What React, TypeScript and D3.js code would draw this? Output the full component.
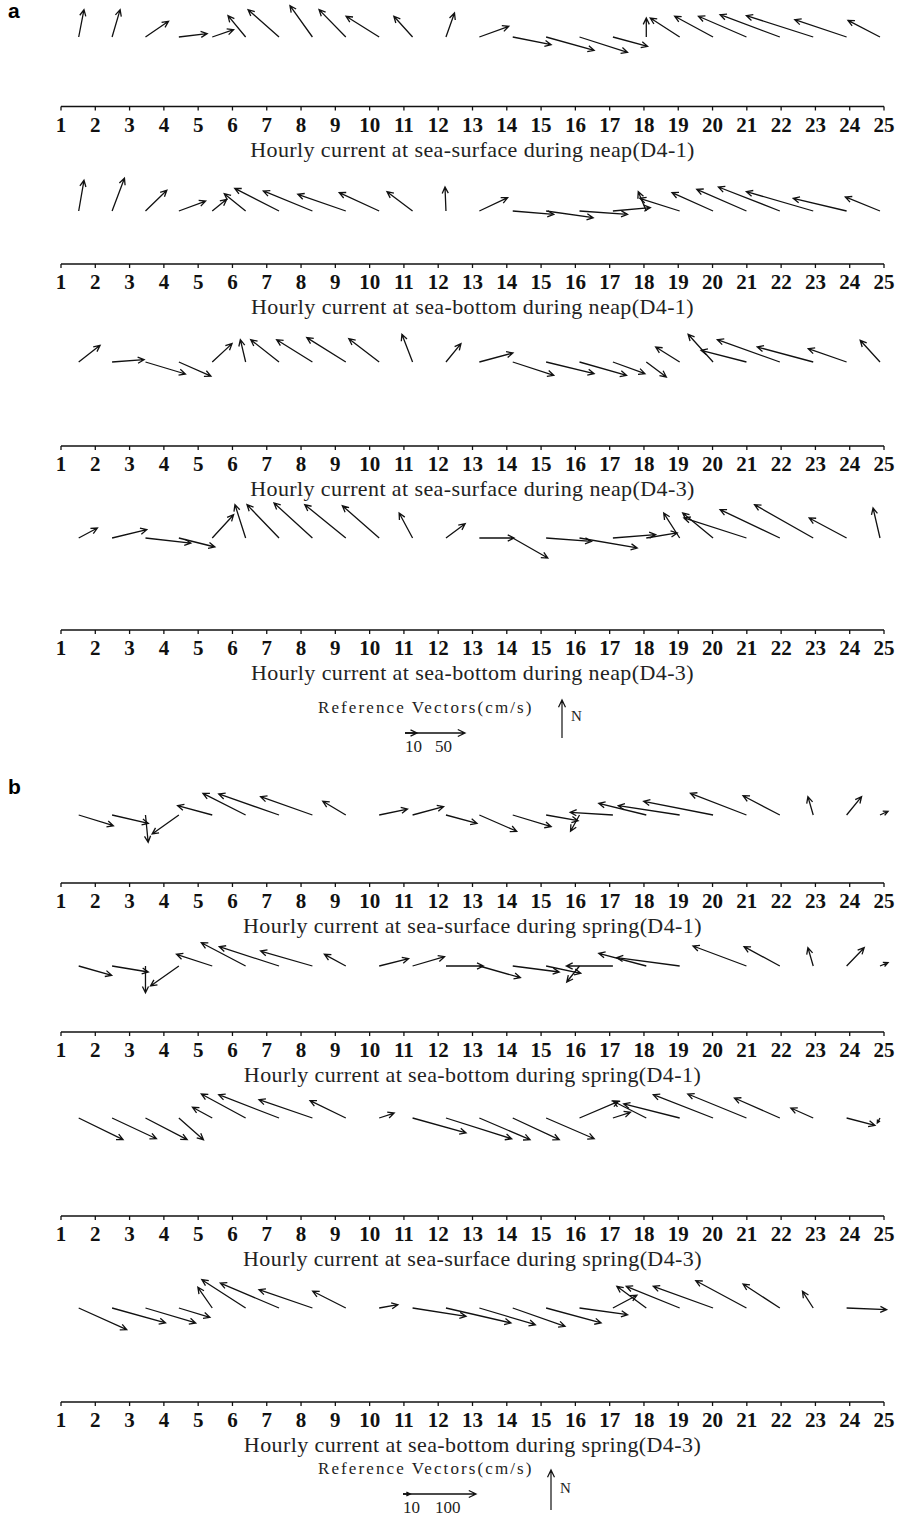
import React from "react";
import * as d3 from "d3";

const hourTicks = [1, 2, 3, 4, 5, 6, 7, 8, 9, 10, 11, 12, 13, 14, 15, 16, 17, 18, 19, 20, 21, 22, 23, 24, 25];

// hourly current vectors [east, north] in cm/s, one per hour
const neapSurfaceD41: [number, number][] = [
  [4.4, 22.8], [6.7, 22.8], [19.2, 13.1], [23.6, 2.8], [17.8, 6.1], [-14.7, 17.8], [-25.8, 22.8],
  [-18.7, 26.1], [-22.3, 22.8], [-27.6, 17.3], [-15.6, 17.3], [7.1, 20], [24.5, 8.9], [32, -6.4],
  [40, -11.1], [40, -12.8], [28.9, -7.8], [0, 15.8], [-24.5, 15.8], [-32, 17.3], [-40, 17.3],
  [-49.8, 18.6], [-55.7, 17.8], [-43.2, 14.4], [-26.7, 13.9],
];
const neapBottomD41: [number, number][] = [
  [4.4, 25.6], [10.3, 27.3], [17.8, 17.3], [22.3, 8.3], [12, 9.7], [-17.8, 14.4], [-36.9, 18.9],
  [-40.9, 16.7], [-40, 13.9], [-33.3, 15.3], [-21.3, 16.1], [-0.8, 20], [23.6, 11.1], [34.2, -2.8],
  [39.2, -5.6], [40, -2.8], [31.2, 2.8], [-6.7, 16.1], [-33.3, 10.6], [-34.2, 15.3], [-41.4, 18.1],
  [-51.2, 20], [-55.7, 16.1], [-44.5, 10.6], [-28.9, 11.7],
];
const neapSurfaceD43: [number, number][] = [
  [17.8, 13.9], [26.7, 1.9], [33.3, -10], [26.7, -11.7], [16.5, 15.3], [-4.4, 18.6], [-23.6, 18.6],
  [-29.8, 18.6], [-32.5, 20.3], [-25.3, 19.4], [-8.9, 23.1], [12.5, 15.3], [28, 7.5], [34.2, -11.1],
  [40, -9.7], [39.2, -11.1], [26.7, -9.7], [16.7, -12.5], [-20, 12.5], [-20.8, 23.1], [-37.8, 9.7],
  [-52.1, 18.6], [-46.7, 12.5], [-32, 11.1], [-16.5, 18.1],
];
const neapBottomD43: [number, number][] = [
  [15.6, 8.3], [28.9, 6.9], [37.8, -4.2], [30, -7.5], [17.8, 19.4], [-8.9, 27.8], [-26.7, 27.8],
  [-32, 29.2], [-34.2, 27.8], [-30.7, 26.9], [-11.2, 20.8], [16, 11.9], [28.9, 0], [29.2, -16.7],
  [37.8, -2.8], [48.1, -8.3], [35.6, 2.8], [25.8, 4.2], [-13.3, 20.8], [-25.3, 20.8], [-52.1, 16.7],
  [-49.8, 23.6], [-48.9, 27.8], [-31.2, 16.7], [-5.8, 25],
];
const springSurfaceD41: [number, number][] = [
  [47.5, -14.7], [49.7, -11.4], [3.7, -37.4], [-36.6, -26], [-47.5, 12.7], [-58.5, 29.7], [-82.6, 28.8],
  [-71, 25.1], [-31.5, 18.8], [38.8, 8.2], [42.5, 11.4], [42.5, -11.4], [51.2, -22.3], [52.6, -16],
  [43.8, -7.8], [-12.3, -22.3], [-58.5, 3.7], [-65.1, 16], [-84.1, 12.7], [-95.1, 18.8], [-76.7, 29.7],
  [-50.4, 26.4], [-7.3, 25.1], [20.5, 25.1], [11, 5.1],
];
const springBottomD41: [number, number][] = [
  [45.2, -12.7], [49.7, -8.2], [0, -36.6], [-38.8, -27.4], [-49, 16], [-60.7, 31.9], [-81.9, 26.4],
  [-71, 20.5], [-29.3, 16], [40.3, 10], [43.8, 12.7], [51.2, 0], [56.2, -16], [63.7, -8.2],
  [47.5, -10], [-17.5, -21.9], [-63.7, 0], [-65.1, 17.4], [-86.3, 11.4], [0, 0], [-73.2, 27.4],
  [-49, 26.5], [-7.3, 25.1], [24.1, 25.1], [11, 4.6],
];
const springSurfaceD43: [number, number][] = [
  [60.7, -29.7], [60.7, -28.4], [57.1, -29.7], [33.7, -29.7], [-27.1, 14.7], [-60.7, 32.9], [-82.6, 31.9],
  [-73.2, 25.1], [-49, 23.7], [20.5, 6.8], [73.2, -20.5], [90, -28.4], [69.4, -29.7], [63.7, -29.7],
  [65.8, -28.4], [53.4, 22.9], [24.1, 7.8], [-45.3, 22.9], [-76.7, 19.2], [-81.9, 31.9], [-80.4, 32.9],
  [-62.2, 27.4], [-30.7, 13.7], [38.8, -10], [-3.7, -6.8],
];
const springBottomD43: [number, number][] = [
  [65.8, -29.7], [73.2, -20.5], [68.8, -20.5], [42.5, -12.7], [-19.7, 28.4], [-60, 38.8], [-80.4, 34.2],
  [-73.2, 25.1], [-45.3, 22.9], [25.6, 4.5], [73.2, -11.4], [89, -20.5], [76.7, -22.9], [71.6, -25.1],
  [75.3, -20.5], [65.8, -9.2], [32.9, 17.4], [-40.3, 29.7], [-73.2, 29.7], [-81.9, 29.7], [-69.4, 37.4],
  [-50.4, 32.9], [-14.7, 22.9], [54.8, -2.3], [0, 0],
];

const neapRefValues = [10, 50];
const springRefValues = [10, 100];

const serif = "'Liberation Serif', 'Times New Roman', serif";

// px per cm/s for each half of the figure
const vecA = d3.scaleLinear().domain([0, 50]).range([0, 60]);
const vecB = d3.scaleLinear().domain([0, 100]).range([0, 73]);

const xAxis = d3.scaleLinear().domain([1, 25]).range([61, 884]);
const xTail = d3.scaleLinear().domain([1, 25]).range([78.7, 880]);

const panels = [
  { data: neapSurfaceD41, vec: vecA, base: 37, axisY: 106.5, title: "Hourly current at sea-surface during neap(D4-1)" },
  { data: neapBottomD41, vec: vecA, base: 211, axisY: 264, title: "Hourly current at sea-bottom during neap(D4-1)" },
  { data: neapSurfaceD43, vec: vecA, base: 362, axisY: 446, title: "Hourly current at sea-surface during neap(D4-3)" },
  { data: neapBottomD43, vec: vecA, base: 538, axisY: 630, title: "Hourly current at sea-bottom during neap(D4-3)" },
  { data: springSurfaceD41, vec: vecB, base: 815, axisY: 883, title: "Hourly current at sea-surface during spring(D4-1)" },
  { data: springBottomD41, vec: vecB, base: 966, axisY: 1032, title: "Hourly current at sea-bottom during spring(D4-1)" },
  { data: springSurfaceD43, vec: vecB, base: 1118, axisY: 1216, title: "Hourly current at sea-surface during spring(D4-3)" },
  { data: springBottomD43, vec: vecB, base: 1308, axisY: 1402, title: "Hourly current at sea-bottom during spring(D4-3)" },
];

function arrowPath(x0: number, y0: number, x1: number, y1: number, head = 7) {
  const p = d3.path();
  p.moveTo(x0, y0);
  p.lineTo(x1, y1);
  const len = Math.hypot(x1 - x0, y1 - y0);
  if (len > 0.5) {
    const a = Math.atan2(y1 - y0, x1 - x0);
    const h = Math.min(head, len * 0.6);
    p.moveTo(x1 - h * Math.cos(a - 0.45), y1 - h * Math.sin(a - 0.45));
    p.lineTo(x1, y1);
    p.lineTo(x1 - h * Math.cos(a + 0.45), y1 - h * Math.sin(a + 0.45));
  }
  return p.toString();
}

function Panel({ p }: { p: (typeof panels)[number] }) {
  const [x0, x1] = xAxis.range();
  return (
    <g>
      {p.data.map(([u, v], i) => {
        const tx = xTail(i + 1);
        return (
          <path
            key={i}
            d={arrowPath(tx, p.base, tx + p.vec(u), p.base - p.vec(v))}
            fill="none"
            stroke="#111"
            strokeWidth={1.3}
          />
        );
      })}
      <line x1={x0} x2={x1} y1={p.axisY} y2={p.axisY} stroke="#111" strokeWidth={1.5} />
      {hourTicks.map((h) => (
        <g key={h}>
          <line x1={xAxis(h)} x2={xAxis(h)} y1={p.axisY} y2={p.axisY + 4} stroke="#111" strokeWidth={1.3} />
          <text
            x={xAxis(h)}
            y={p.axisY + 25}
            textAnchor="middle"
            fontFamily={serif}
            fontWeight="bold"
            fontSize={21}
            fill="#111"
          >
            {h}
          </text>
        </g>
      ))}
      <text
        x={(x0 + x1) / 2}
        y={p.axisY + 50}
        textAnchor="middle"
        fontFamily={serif}
        fontSize={22}
        letterSpacing={0.4}
        fill="#222"
      >
        {p.title}
      </text>
    </g>
  );
}

type LegendProps = {
  y: number;
  values: number[];
  vec: d3.ScaleLinear<number, number>;
  northX: number;
  northTop: number;
  northBottom: number;
  nY: number;
  labelX: number[];
};

function RefLegend({ y, values, vec, northX, northTop, northBottom, nY, labelX }: LegendProps) {
  const startX = labelX[0];
  return (
    <g fontFamily={serif} fill="#222">
      <text x={318} y={y} fontSize={17} letterSpacing={2.1}>
        Reference Vectors(cm/s)
      </text>
      {values.map((v, i) => (
        <path
          key={i}
          d={arrowPath(startX, y + 20, startX + vec(v), y + 20, 8)}
          fill="none"
          stroke="#111"
          strokeWidth={1.3}
        />
      ))}
      {values.map((v, i) => (
        <text key={"t" + i} x={labelX[i]} y={y + 39} fontSize={17}>
          {v}
        </text>
      ))}
      <path d={arrowPath(northX, northBottom, northX, northTop, 8)} fill="none" stroke="#111" strokeWidth={1.2} />
      <text x={northX + 9} y={nY} fontSize={15}>
        N
      </text>
    </g>
  );
}

export default function App() {
  return (
    <svg
      width={916}
      height={1517}
      style={{ position: "absolute", left: 0, top: 0, background: "#fff" }}
    >
      <text x={8} y={18} fontFamily="'Liberation Sans', Arial, sans-serif" fontWeight="bold" fontSize={21}>
        a
      </text>
      <text x={8} y={794} fontFamily="'Liberation Sans', Arial, sans-serif" fontWeight="bold" fontSize={21}>
        b
      </text>
      {panels.map((p, i) => (
        <Panel key={i} p={p} />
      ))}
      <RefLegend
        y={713}
        values={neapRefValues}
        vec={vecA}
        northX={562}
        northTop={700}
        northBottom={738}
        nY={721}
        labelX={[405, 435]}
      />
      <RefLegend
        y={1474}
        values={springRefValues}
        vec={vecB}
        northX={551}
        northTop={1470}
        northBottom={1510}
        nY={1493}
        labelX={[403, 435]}
      />
    </svg>
  );
}
